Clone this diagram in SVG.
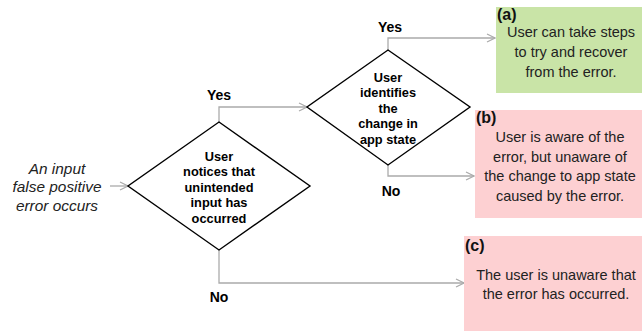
<svg xmlns="http://www.w3.org/2000/svg" width="642" height="331" viewBox="0 0 642 331">
<style>
.dia{fill:#fff;stroke:#000;stroke-width:1.4}
.con{fill:none;stroke:#ababab;stroke-width:1.3}
.dt{font-family:"Liberation Sans",Arial,sans-serif;font-weight:bold;font-size:12.8px;fill:#000;text-anchor:middle}
.yn{font-family:"Liberation Sans",Arial,sans-serif;font-weight:bold;font-size:14px;fill:#000;text-anchor:middle}
.bt{font-family:"Liberation Sans",Arial,sans-serif;font-size:14.5px;fill:#222;text-anchor:middle}
.lb{font-family:"Liberation Sans",Arial,sans-serif;font-weight:bold;font-size:16px;fill:#111}
.it{font-family:"Liberation Sans",Arial,sans-serif;font-style:italic;font-size:15.4px;fill:#222;text-anchor:middle}
</style>
<defs>
<marker id="arr" markerWidth="10" markerHeight="10" refX="9" refY="5" orient="auto" markerUnits="userSpaceOnUse">
<path d="M1,1 L9,5 L1,9" fill="none" stroke="#ababab" stroke-width="1.2"/>
</marker>
</defs>
<g id="connectors">
<line class="con" x1="110" y1="186" x2="128" y2="186" marker-end="url(#arr)"/>
<polyline class="con" points="219,122 219,107 307,107" marker-end="url(#arr)"/>
<polyline class="con" points="388,50 388,38 495,38" marker-end="url(#arr)"/>
<polyline class="con" points="388,165 388,176 474,176" marker-end="url(#arr)"/>
<polyline class="con" points="219,250 219,283 464,283" marker-end="url(#arr)"/>
</g>
<g id="start">
<text class="it" x="57" y="173.5">An input</text>
<text class="it" x="57" y="192">false positive</text>
<text class="it" x="57" y="210.5">error occurs</text>
</g>
<g id="decision1">
<polygon class="dia" points="219,122 310,186 219,250 128,186"/>
<text class="dt" x="219" y="160.5">User</text>
<text class="dt" x="219" y="176">notices that</text>
<text class="dt" x="219" y="191.5">unintended</text>
<text class="dt" x="219" y="207">input has</text>
<text class="dt" x="219" y="222.5">occurred</text>
</g>
<g id="decision2">
<polygon class="dia" points="388,50 470,107 388,165 307,107"/>
<text class="dt" x="388" y="81.5">User</text>
<text class="dt" x="388" y="97">identifies</text>
<text class="dt" x="388" y="112.5">the</text>
<text class="dt" x="388" y="128">change in</text>
<text class="dt" x="388" y="143.5">app state</text>
</g>
<g id="labels">
<text class="yn" x="219" y="99.5">Yes</text>
<text class="yn" x="390" y="32">Yes</text>
<text class="yn" x="391" y="196">No</text>
<text class="yn" x="219" y="302">No</text>
</g>
<g id="outcome-a">
<rect x="496" y="7" width="146" height="86" fill="#c9e4a7"/>
<text class="lb" x="497" y="20">(a)</text>
<text class="bt" x="571" y="37">User can take steps</text>
<text class="bt" x="571" y="57">to try and recover</text>
<text class="bt" x="571" y="77">from the error.</text>
</g>
<g id="outcome-b">
<rect x="475" y="110" width="167" height="108" fill="#fdd0d2"/>
<text class="lb" x="476" y="123">(b)</text>
<text class="bt" x="560" y="142">User is aware of the</text>
<text class="bt" x="560" y="161.5">error, but unaware of</text>
<text class="bt" x="560" y="181">the change to app state</text>
<text class="bt" x="560" y="200.5">caused by the error.</text>
</g>
<g id="outcome-c">
<rect x="464" y="236" width="178" height="95" fill="#fdd0d2"/>
<text class="lb" x="465" y="251">(c)</text>
<text class="bt" x="556" y="280">The user is unaware that</text>
<text class="bt" x="556" y="299">the error has occurred.</text>
</g>
</svg>
